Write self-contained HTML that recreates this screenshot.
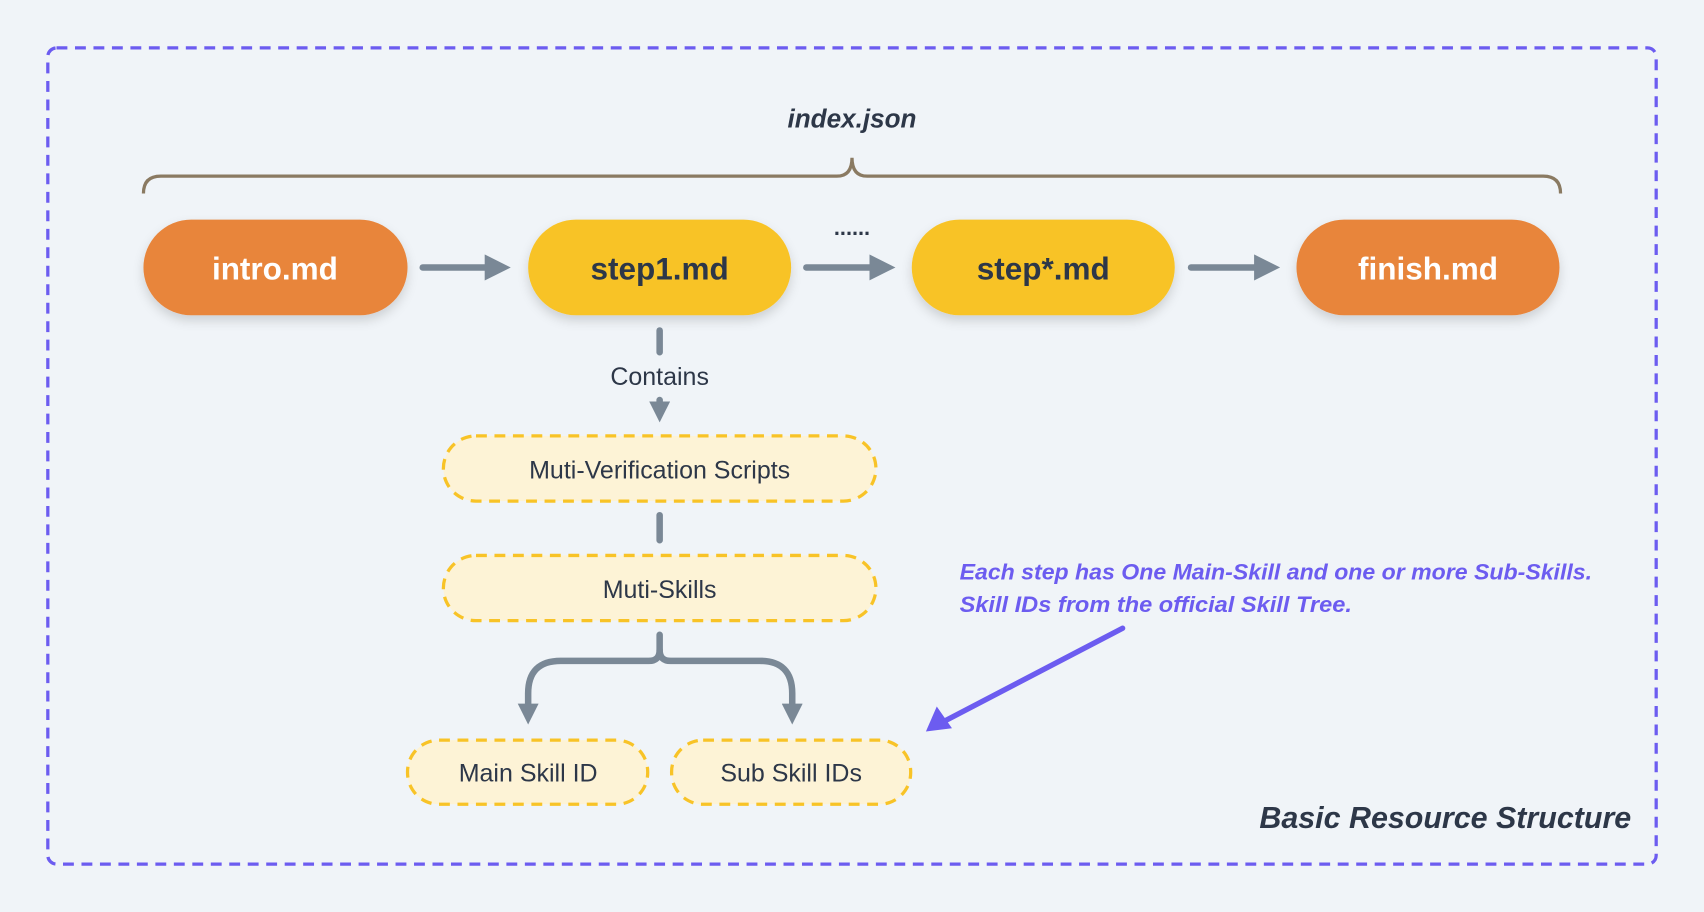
<!DOCTYPE html>
<html><head><meta charset="utf-8"><style>
html,body{margin:0;padding:0;background:#f0f4f8;}
svg{display:block;}
text{font-family:"Liberation Sans","DejaVu Sans",sans-serif;}
</style></head><body>
<svg width="1704" height="912" viewBox="0 0 1568 839" xmlns="http://www.w3.org/2000/svg">
<defs>
<filter id="sh" x="-20%" y="-30%" width="140%" height="170%"><feDropShadow dx="0" dy="5" stdDeviation="5" flood-color="#000" flood-opacity="0.15"/></filter>
<marker id="ag" viewBox="0 0 10 10" refX="5" refY="5" markerWidth="4" markerHeight="4" orient="auto"><path d="M0,0 L10,5 L0,10 z" fill="#7a8896"/></marker>
<marker id="as" viewBox="0 0 10 10" refX="5" refY="5" markerWidth="3.2" markerHeight="3.2" orient="auto"><path d="M0,0 L10,5 L0,10 z" fill="#7a8896"/></marker>
</defs>
<rect width="1568" height="839" fill="#f0f4f8"/>
<rect x="44" y="44" width="1480" height="751" rx="8" fill="none" stroke="#6c5cf0" stroke-width="3" stroke-dasharray="10 7"/>
<text x="784" y="117" text-anchor="middle" font-size="24" font-weight="bold" font-style="italic" fill="#2d3748">index.json</text>
<path d="M132,178 Q132,162 148,162 L770,162 Q784,162 784,145 Q784,162 798,162 L1420,162 Q1436,162 1436,178" fill="none" stroke="#8a7a62" stroke-width="3"/>
<g filter="url(#sh)">
<rect x="132" y="202" width="243" height="88" rx="44" fill="#e8853a"/>
<rect x="486" y="202" width="242" height="88" rx="44" fill="#f8c327"/>
<rect x="839" y="202" width="242" height="88" rx="44" fill="#f8c327"/>
<rect x="1193" y="202" width="242" height="88" rx="44" fill="#e8853a"/>
</g>
<g font-size="29" text-anchor="middle" font-weight="bold">
<text x="253" y="257" fill="#fff">intro.md</text>
<text x="607" y="257" fill="#2d3748">step1.md</text>
<text x="960" y="257" fill="#2d3748">step*.md</text>
<text x="1314" y="257" fill="#fff">finish.md</text>
</g>
<text x="784" y="216" text-anchor="middle" font-size="20" font-weight="bold" fill="#2d3748">......</text>
<g stroke="#7a8896" stroke-width="6" fill="none" stroke-linecap="round">
<line x1="389" y1="246" x2="458" y2="246" marker-end="url(#ag)"/>
<line x1="742" y1="246" x2="812" y2="246" marker-end="url(#ag)"/>
<line x1="1096" y1="246" x2="1166" y2="246" marker-end="url(#ag)"/>
<line x1="607" y1="304" x2="607" y2="324"/>
<line x1="607" y1="368" x2="607" y2="379" marker-end="url(#as)"/>
<line x1="607" y1="474" x2="607" y2="497"/>
<path d="M607,584 L607,598 Q607,608 597,608 L516,608 Q486,608 486,638 L486,657" marker-end="url(#as)"/>
<path d="M607,598 Q607,608 617,608 L699,608 Q729,608 729,638 L729,657" marker-end="url(#as)"/>
</g>
<text x="607" y="354" text-anchor="middle" font-size="23" fill="#2d3748">Contains</text>
<g fill="#fdf3d6" stroke="#f8c327" stroke-width="3" stroke-dasharray="10 7">
<rect x="408" y="401" width="398" height="60" rx="30"/>
<rect x="408" y="511" width="398" height="60" rx="30"/>
<rect x="375" y="681" width="221" height="59" rx="29"/>
<rect x="618" y="681" width="220" height="59" rx="29"/>
</g>
<g font-size="23" text-anchor="middle" fill="#2d3748">
<text x="607" y="440">Muti-Verification Scripts</text>
<text x="607" y="550">Muti-Skills</text>
<text x="486" y="719">Main Skill ID</text>
<text x="728" y="719">Sub Skill IDs</text>
</g>
<g font-size="20" font-weight="bold" font-style="italic" fill="#6c5cf0">
<text x="883" y="533" textLength="582" lengthAdjust="spacingAndGlyphs">Each step has One Main-Skill and one or more Sub-Skills.</text>
<text x="883" y="563" textLength="361" lengthAdjust="spacingAndGlyphs">Skill IDs from the official Skill Tree.</text>
</g>
<line x1="1033" y1="578" x2="870" y2="663" stroke="#6c5cf0" stroke-width="5" stroke-linecap="round"/>
<path d="M852,673 L862,650 L876,670 z" fill="#6c5cf0"/>
<text x="1501" y="762" text-anchor="end" font-size="28" font-weight="bold" font-style="italic" fill="#2d3748">Basic Resource Structure</text>
</svg>
</body></html>
